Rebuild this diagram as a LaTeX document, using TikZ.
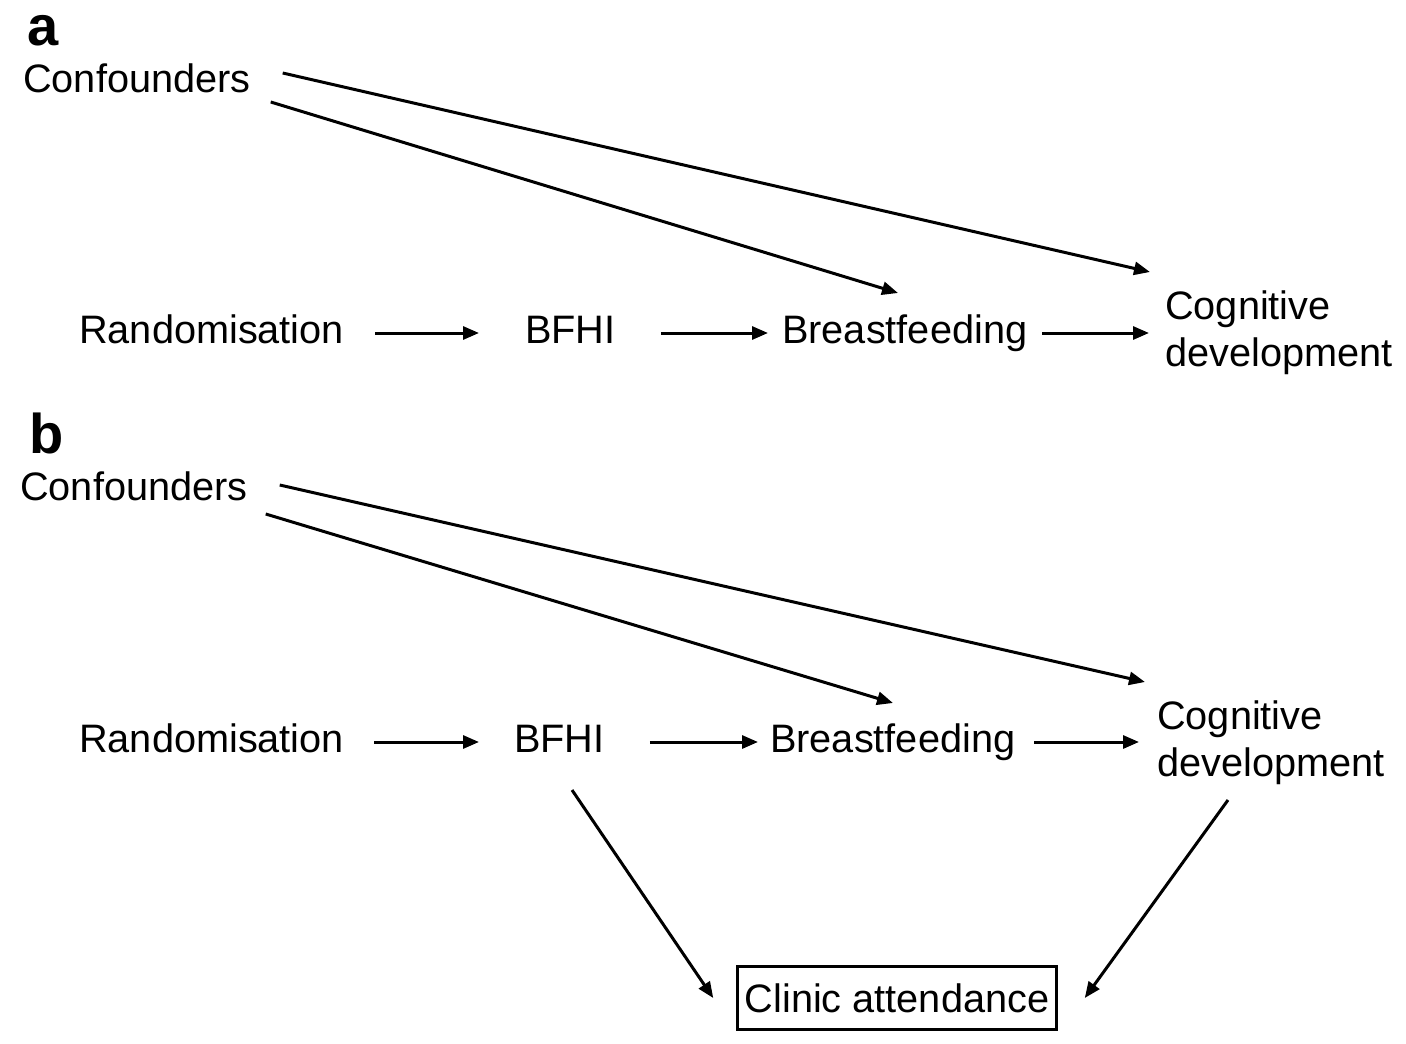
\documentclass[tikz,border=0pt]{standalone}
\usepackage{fontspec}
\setmainfont{Liberation Sans}
\usetikzlibrary{arrows.meta}

\begin{document}
\begin{tikzpicture}[
  x=1pt, y=-1pt,
  >={Triangle[length=16pt,width=13pt]},
  lbl/.style={font=\fontsize{39.7}{47}\selectfont, inner sep=0pt, anchor=base west},
  panel/.style={font=\fontsize{56}{60}\selectfont\bfseries, inner sep=0pt, anchor=base west},
  arr/.style={->, line width=3pt},
  boxed/.style={lbl, anchor=center, draw, line width=3pt, inner xsep=7pt, minimum width=318pt, minimum height=63pt},
]
  \useasboundingbox (0,0) rectangle (1406,1044);

  % ---------------- panel a
  \node[panel] (pa) at (27,45) {a};
  \node[lbl] (confA) at (23,92) {Confounders};
  \node[lbl] (randA) at (79,343) {Randomisation};
  \node[lbl] (bfhiA) at (525,343) {BFHI};
  \node[lbl] (brstA) at (782,343) {Breastfeeding};
  \node[lbl, align=left] (cogA) at (1165,366) {Cognitive\\development};
  \draw[arr] ([xshift=31pt,yshift=10pt]randA.base east) -- ([xshift=-46pt,yshift=10pt]bfhiA.base west);
  \draw[arr] ([xshift=45pt,yshift=10pt]bfhiA.base east) -- ([xshift=-14pt,yshift=10pt]brstA.base west);
  \draw[arr] ([xshift=15pt,yshift=10pt]brstA.base east) -- ([xshift=-16pt,yshift=33pt]cogA.base west);
  \draw[arr] ([xshift=32pt,yshift=19pt]confA.base east) -- ([xshift=-15pt,yshift=94pt]cogA.base west);
  \draw[arr] ([xshift=20pt,yshift=-10pt]confA.base east) -- ([xshift=116pt,yshift=50pt]brstA.base west);

  % ---------------- panel b
  \node[panel] (pb) at (29,453) {b};
  \node[lbl] (confB) at (20,500) {Confounders};
  \node[lbl] (randB) at (79,752) {Randomisation};
  \node[lbl] (bfhiB) at (514,752) {BFHI};
  \node[lbl] (brstB) at (770,752) {Breastfeeding};
  \node[lbl, align=left] (cogB) at (1157,776) {Cognitive\\development};
  \node[boxed] (clinic) at (897,998) {Clinic attendance};
  \draw[arr] ([xshift=30pt,yshift=10pt]randB.base east) -- ([xshift=-35pt,yshift=10pt]bfhiB.base west);
  \draw[arr] ([xshift=45pt,yshift=10pt]bfhiB.base east) -- ([xshift=-12pt,yshift=10pt]brstB.base west);
  \draw[arr] ([xshift=19pt,yshift=10pt]brstB.base east) -- ([xshift=-18pt,yshift=34pt]cogB.base west);
  \draw[arr] ([xshift=32pt,yshift=15pt]confB.base east) -- ([xshift=-12pt,yshift=94pt]cogB.base west);
  \draw[arr] ([xshift=18pt,yshift=-14pt]confB.base east) -- ([xshift=123pt,yshift=49pt]brstB.base west);
  \draw[arr] ([xshift=58pt,yshift=-38pt]bfhiB.base west) -- ([xshift=-23pt]clinic.west);
  \draw[arr] ([xshift=71pt,yshift=-24pt]cogB.base west) -- ([xshift=27pt]clinic.east);
\end{tikzpicture}
\end{document}
